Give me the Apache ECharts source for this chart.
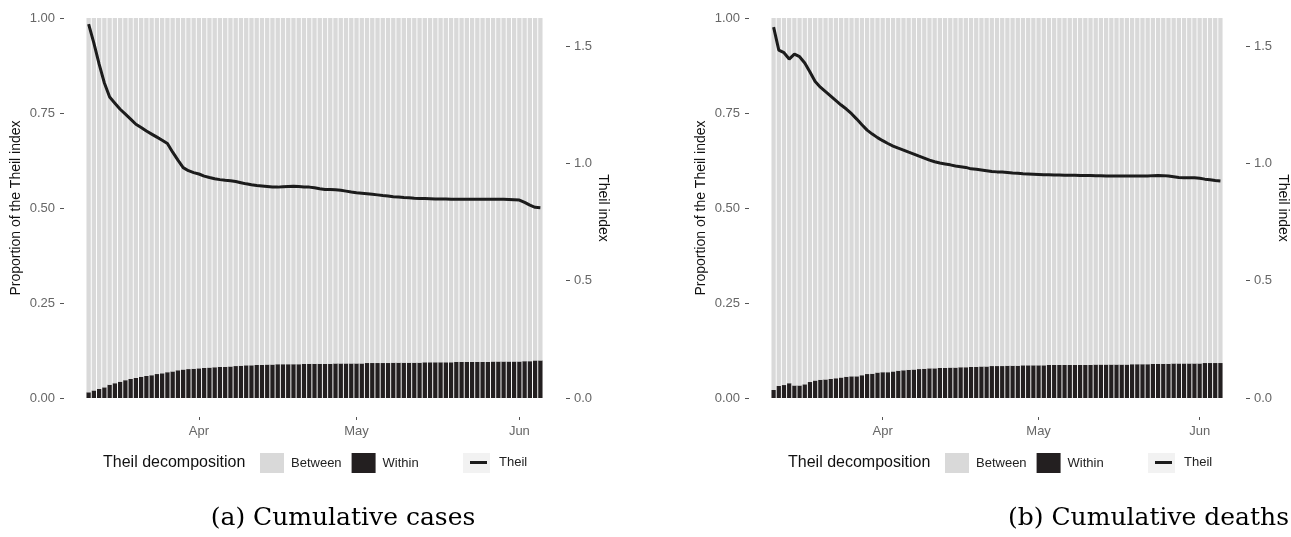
<!DOCTYPE html>
<html>
<head>
<meta charset="utf-8">
<script src="https://cdn.jsdelivr.net/npm/echarts@6/dist/echarts.min.js"></script>
<style>
html,body{margin:0;padding:0;background:#fff;}
#chart_theil{width:1291px;height:537px;}
</style>
</head>
<body>
<div id="chart_theil"></div>
<script>
var firstDay = '2020-03-11';
var dayCount = 87;
var monthNames = ['Jan','Feb','Mar','Apr','May','Jun','Jul','Aug','Sep','Oct','Nov','Dec'];

var casesWithin = [
	0.015,0.020,0.024,0.028,0.035,0.039,0.043,0.047,0.050,0.053,
	0.056,0.058,0.060,0.063,0.065,0.068,0.070,0.073,0.075,0.076,
	0.077,0.078,0.079,0.080,0.081,0.082,0.082,0.083,0.084,0.085,
	0.086,0.086,0.087,0.087,0.088,0.088,0.089,0.089,0.089,0.089,
	0.089,0.090,0.090,0.090,0.090,0.090,0.090,0.091,0.091,0.091,
	0.091,0.091,0.091,0.092,0.092,0.092,0.092,0.092,0.093,0.093,
	0.093,0.093,0.093,0.093,0.094,0.094,0.094,0.094,0.094,0.094,
	0.095,0.095,0.095,0.095,0.095,0.095,0.095,0.096,0.096,0.096,
	0.096,0.096,0.096,0.097,0.097,0.099,0.099
];
var casesTheil = [
	1.594,1.513,1.423,1.343,1.283,1.257,1.231,1.210,1.189,1.167,
	1.153,1.138,1.125,1.112,1.099,1.085,1.048,1.014,0.982,0.969,
	0.961,0.955,0.946,0.940,0.935,0.931,0.928,0.926,0.923,0.918,
	0.913,0.909,0.906,0.904,0.902,0.900,0.899,0.901,0.902,0.903,
	0.902,0.900,0.899,0.896,0.892,0.889,0.889,0.888,0.886,0.882,
	0.878,0.875,0.873,0.871,0.869,0.866,0.863,0.861,0.858,0.857,
	0.855,0.854,0.852,0.851,0.850,0.849,0.848,0.848,0.848,0.847,
	0.847,0.847,0.847,0.847,0.847,0.847,0.847,0.847,0.847,0.847,
	0.846,0.845,0.844,0.834,0.822,0.813,0.811
];
var deathsWithin = [
	0.021,0.032,0.034,0.039,0.033,0.033,0.036,0.042,0.046,0.048,
	0.049,0.050,0.052,0.054,0.056,0.057,0.057,0.060,0.063,0.064,
	0.067,0.068,0.068,0.070,0.072,0.073,0.074,0.075,0.076,0.077,
	0.078,0.078,0.079,0.079,0.080,0.080,0.081,0.081,0.082,0.082,
	0.083,0.083,0.084,0.084,0.084,0.085,0.085,0.085,0.086,0.086,
	0.086,0.086,0.086,0.087,0.087,0.087,0.087,0.087,0.087,0.087,
	0.087,0.087,0.088,0.088,0.088,0.088,0.088,0.088,0.088,0.089,
	0.089,0.089,0.089,0.090,0.090,0.090,0.090,0.091,0.091,0.091,
	0.091,0.091,0.091,0.092,0.092,0.092,0.092
];
var deathsTheil = [
	1.581,1.483,1.472,1.445,1.466,1.455,1.428,1.390,1.349,1.325,
	1.306,1.287,1.268,1.249,1.232,1.212,1.189,1.165,1.142,1.125,
	1.110,1.097,1.085,1.074,1.065,1.057,1.048,1.040,1.031,1.023,
	1.014,1.007,1.002,0.998,0.994,0.989,0.986,0.983,0.977,0.975,
	0.972,0.969,0.966,0.964,0.963,0.961,0.959,0.958,0.956,0.955,
	0.954,0.953,0.952,0.952,0.951,0.951,0.950,0.950,0.950,0.949,
	0.949,0.949,0.948,0.947,0.946,0.946,0.946,0.946,0.946,0.946,
	0.946,0.946,0.946,0.948,0.949,0.948,0.946,0.943,0.940,0.939,
	0.939,0.939,0.937,0.933,0.930,0.927,0.925
];
var proportionTicks = [0, 0.25, 0.5, 0.75, 1];
var theilTicks = [0, 0.5, 1, 1.5];
var legendNames = ['Between', 'Within'];
var captions = ['(a) Cumulative cases', '(b) Cumulative deaths'];

var sansFont = '"Liberation Sans", Arial, sans-serif';

function makeDays(){
	var days = [];
	var t = Date.parse(firstDay + 'T00:00:00Z');
	for (var i = 0; i < dayCount; i++) {
		var d = new Date(t + i * 86400000);
		var m = d.getUTCMonth() + 1, dd = d.getUTCDate();
		days.push(d.getUTCFullYear() + '-' + (m < 10 ? '0' : '') + m + '-' + (dd < 10 ? '0' : '') + dd);
	}
	return days;
}
var days = makeDays();

function isMonthStart(index, value){
	return value.slice(8) === '01';
}

var chartDom = document.getElementById('chart_theil');
var myChart = echarts.init(chartDom, null, {renderer: 'canvas'});

var option = {
	animation: false,
	backgroundColor: '#fff',
	grid: [], xAxis: [], yAxis: [], series: [], legend: [], graphic: []
};

function addPanel(idx, within, theil, dx, caption, captionX, captionAlign){
	var between = within.map(function(v){ return +(1 - v).toFixed(3); });
	option.grid.push({left: 86 + dx, top: 18, width: 457, height: 380});
	// ticks sit ~19px below the bars, so only the last 3px of a long tick are drawn
	option.xAxis.push({
		type: 'category', gridIndex: idx, data: days,
		axisLine: {show: false},
		axisTick: {
			show: true, alignWithLabel: true, interval: isMonthStart, length: 22,
			lineStyle: {color: '#555', type: [0, 19, 3, 100]}
		},
		axisLabel: {
			interval: isMonthStart, margin: 27, color: '#666', fontSize: 13, fontFamily: sansFont,
			formatter: function(v){ return monthNames[parseInt(v.slice(5, 7), 10) - 1]; }
		},
		splitLine: {show: false}
	});
	option.yAxis.push({
		type: 'value', gridIndex: idx, min: 0, max: 1, interval: 0.25, offset: 22,
		axisLine: {show: false},
		axisTick: {show: true, length: 4, lineStyle: {color: '#555'}},
		axisLabel: {
			customValues: proportionTicks, margin: 9, color: '#666', fontSize: 13, fontFamily: sansFont,
			formatter: function(v){ return v.toFixed(2); }
		},
		splitLine: {show: false},
		name: 'Proportion of the Theil index', nameLocation: 'middle', nameGap: 41,
		nameTextStyle: {fontSize: 14, color: '#111', fontFamily: sansFont}
	});
	option.yAxis.push({
		type: 'value', gridIndex: idx, min: 0, max: 1.62, position: 'right', offset: 23,
		axisLine: {show: false},
		axisTick: {show: true, length: 4, customValues: theilTicks, lineStyle: {color: '#555'}},
		axisLabel: {
			customValues: theilTicks, margin: 8, color: '#666', fontSize: 13, fontFamily: sansFont,
			formatter: function(v){ return v.toFixed(1); }
		},
		splitLine: {show: false},
		name: 'Theil index', nameLocation: 'middle', nameGap: 29, nameRotate: -90,
		nameTextStyle: {fontSize: 14, color: '#111', fontFamily: sansFont}
	});
	option.series.push({
		name: 'Within', type: 'bar', xAxisIndex: idx, yAxisIndex: idx * 2, stack: 'decomp' + idx,
		data: within, barCategoryGap: '18%', itemStyle: {color: '#231f20'}
	});
	option.series.push({
		name: 'Between', type: 'bar', xAxisIndex: idx, yAxisIndex: idx * 2, stack: 'decomp' + idx,
		data: between, barCategoryGap: '18%', itemStyle: {color: '#d9d9d9'}
	});
	option.series.push({
		name: 'Theil', type: 'line', xAxisIndex: idx, yAxisIndex: idx * 2 + 1,
		data: theil, symbol: 'none', z: 5,
		lineStyle: {color: '#1c1c1c', width: 3},
		itemStyle: {color: '#1c1c1c'}
	});
	option.legend.push({
		left: 260 + dx, top: 453, data: legendNames, icon: 'rect', selectedMode: false,
		itemWidth: 24, itemHeight: 20, itemGap: 10, padding: 0,
		textStyle: {fontSize: 13, color: '#222', fontFamily: sansFont, padding: [0, 0, 0, 2]}
	});
	option.legend.push({
		left: 470 + dx, top: 456, data: ['Theil'], icon: 'rect', selectedMode: false,
		itemWidth: 17, itemHeight: 3, padding: 0,
		textStyle: {fontSize: 13, color: '#222', fontFamily: sansFont, padding: [0, 0, 0, 7]}
	});
	option.graphic.push({
		type: 'rect', left: 463 + dx, top: 453, z: 0,
		shape: {width: 27, height: 20}, style: {fill: '#f2f2f2'}
	});
	option.graphic.push({
		type: 'text', x: 103 + dx, y: 463, z: 5,
		style: {text: 'Theil decomposition', fill: '#111', font: '16px ' + sansFont, align: 'left', verticalAlign: 'middle'}
	});
	option.graphic.push({
		type: 'text', x: captionX, y: 518, z: 5,
		style: {text: caption, fill: '#000', font: '25px "DejaVu Serif", serif', align: captionAlign, verticalAlign: 'middle'}
	});
}

addPanel(0, casesWithin, casesTheil, 0, captions[0], 343, 'center');
addPanel(1, deathsWithin, deathsTheil, 685, captions[1], 1289, 'right');

myChart.setOption(option);
window.addEventListener('resize', function(){
	myChart.resize();
});
</script>
</body>
</html>
